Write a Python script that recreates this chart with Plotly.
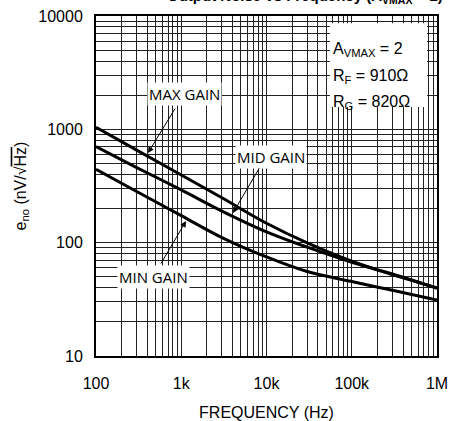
import plotly.graph_objects as go

# values
freq = [100, 300, 1000, 3000, 10000, 30000, 100000, 300000, 1000000]
max_gain = [1042, 656, 395, 249, 148.3, 99.4, 68.6, 52.3, 40.0]
mid_gain = [703, 460, 292, 190, 124.5, 91.2, 67.2, 52.9, 39.6]
min_gain = [444, 283, 173, 110.9, 74.8, 55.6, 45.4, 38.0, 31.2]

x_ticks = [100, 1000, 10000, 100000, 1000000]
x_labels = ['100', '1k', '10k', '100k', '1M']
y_ticks = [10, 100, 1000, 10000]
y_labels = ['10', '100', '1000', '10000']

x_minor = [m * d for d in [100, 1000, 10000, 100000] for m in range(2, 10)]
y_minor = [m * d for d in [10, 100, 1000] for m in range(2, 10)]

fig = go.Figure()
for name, vals in [('MAX GAIN', max_gain), ('MID GAIN', mid_gain), ('MIN GAIN', min_gain)]:
    fig.add_trace(go.Scatter(x=freq, y=vals, name=name, mode='lines',
                             line=dict(color='black', width=3, shape='spline', smoothing=1)))

grid = '#222222'
axfont = dict(family='Liberation Sans, Arial', size=16, color='black')
fig.update_xaxes(type='log', range=[2, 6], tickvals=x_ticks, ticktext=x_labels,
                 showgrid=True, gridcolor=grid, gridwidth=1,
                 minor=dict(tickvals=x_minor, showgrid=True, gridcolor=grid, gridwidth=1),
                 showline=True, linecolor='black', linewidth=2, mirror=True,
                 ticks='', zeroline=False, automargin=False, ticklabelstandoff=12,
                 tickfont=axfont,
                 title=dict(text='FREQUENCY (Hz)', standoff=17, font=axfont))
fig.update_yaxes(type='log', range=[1, 4], tickvals=y_ticks, ticktext=y_labels,
                 showgrid=True, gridcolor=grid, gridwidth=1,
                 minor=dict(tickvals=y_minor, showgrid=True, gridcolor=grid, gridwidth=1),
                 showline=True, linecolor='black', linewidth=2, mirror=True,
                 ticks='', zeroline=False, automargin=False, ticklabelstandoff=8,
                 tickfont=axfont,
                 title=dict(text="e<sub>no</sub> (nV/√<span style='text-decoration:overline'>Hz</span>)",
                            standoff=8, font=axfont))

lab_font = dict(family='Open Sans, Liberation Sans', size=15, color='black')
par_font = dict(family='Liberation Sans, Arial', size=16, color='black')

annotations = [
    # curve labels
    dict(x=3.038, y=3.312, text='MAX GAIN', showarrow=False, bgcolor='white', borderpad=1, font=lab_font),
    dict(x=4.053, y=2.756, text='MID GAIN', showarrow=False, bgcolor='white', borderpad=1, font=lab_font),
    dict(x=2.680, y=1.697, text='MIN GAIN', showarrow=False, bgcolor='white', borderpad=1, font=lab_font),
    # arrows
    dict(x=2.61, y=2.791, ax=28, ay=-46, text='', showarrow=True, arrowhead=2, arrowsize=1.2,
         arrowwidth=1, arrowcolor='black'),
    dict(x=3.607, y=2.262, ax=27, ay=-46, text='', showarrow=True, arrowhead=2, arrowsize=1.2,
         arrowwidth=1, arrowcolor='black'),
    dict(x=3.056, y=2.191, ax=-26, ay=44, text='', showarrow=True, arrowhead=2, arrowsize=1.2,
         arrowwidth=1, arrowcolor='black'),
    # parameters
    dict(xref='paper', yref='paper', x=0.689, y=0.935, xanchor='left', showarrow=False,
         text='A<sub>VMAX</sub> = 2', font=par_font),
    dict(xref='paper', yref='paper', x=0.689, y=0.856, xanchor='left', showarrow=False,
         text='R<sub>F</sub> = 910Ω', font=par_font),
    dict(xref='paper', yref='paper', x=0.689, y=0.779, xanchor='left', showarrow=False,
         text='R<sub>G</sub> = 820Ω', font=par_font),
    # title cut off at the top of the picture
    dict(xref='paper', yref='paper', x=1.0235, y=1.025, xanchor='right', yanchor='bottom',
         showarrow=False, text='<b>Output Noise vs Frequency (A<sub>VMAX</sub> = 2)</b>',
         font=dict(family='Liberation Sans, Arial', size=15, color='black')),
]

fig.update_layout(
    width=450, height=421,
    margin=dict(l=96, r=13, t=16, b=65),
    paper_bgcolor='white', plot_bgcolor='white',
    showlegend=False,
    annotations=annotations,
    shapes=[dict(type='rect', xref='paper', yref='paper', x0=0.686, x1=0.971, y0=0.732, y1=0.979,
                 fillcolor='white', line=dict(width=0), layer='above')],
)

# drop the browser's default page margin so the figure sits at the top-left corner
fig.write_html("out.html", config={'displayModeBar': False},
               post_script="document.body.style.margin='0';")
